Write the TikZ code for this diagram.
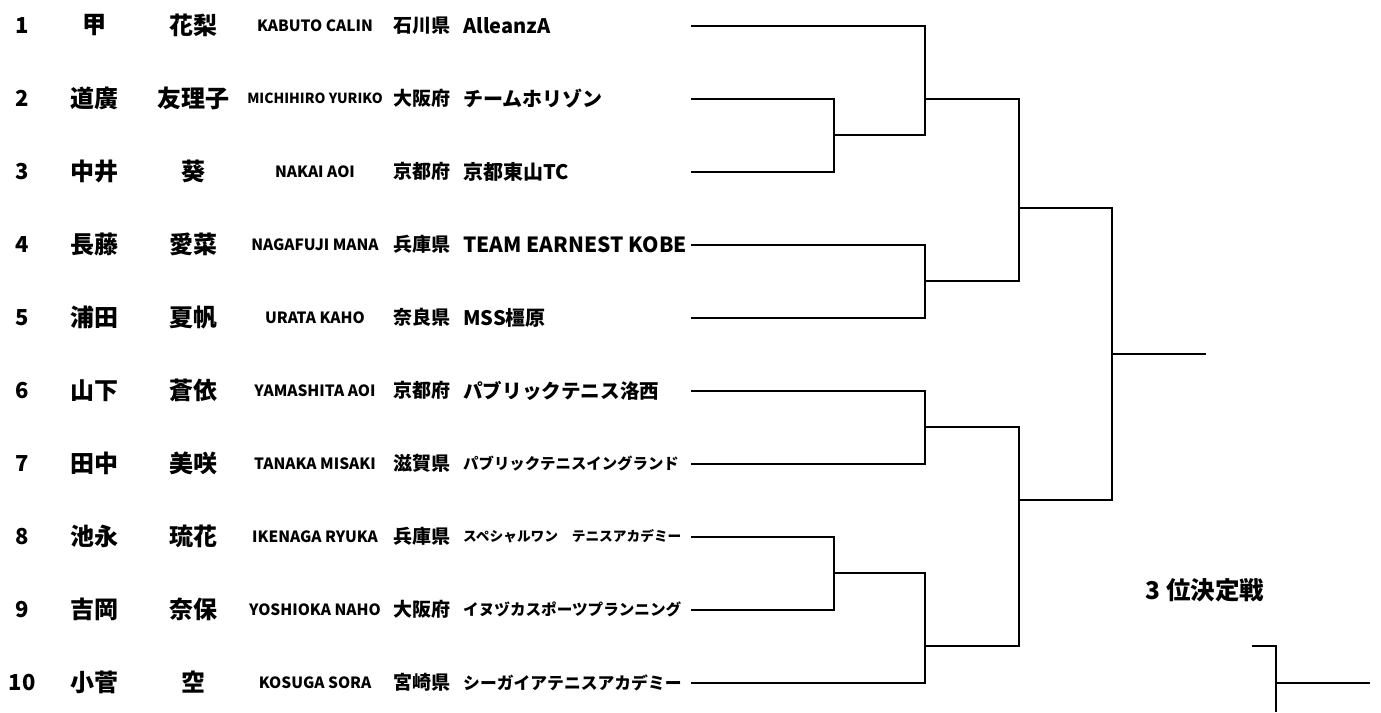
\documentclass[tikz,border=0pt]{standalone}
\usepackage{fontspec}
\setmainfont{Noto Sans CJK JP}
\tikzset{
  entry/.style={inner sep=0pt, text=black},
  seed/.style={entry, font=\fontsize{22}{26}\selectfont\bfseries},
  family/.style={entry, font=\fontsize{24}{28}\selectfont\bfseries},
  given/.style={entry, font=\fontsize{24}{28}\selectfont\bfseries},
  roman/.style={entry, font=\fontsize{#1}{18}\selectfont\bfseries},
  roman/.default=15.5,
  pref/.style={entry, anchor=west, font=\fontsize{19}{22}\selectfont\bfseries},
  club/.style={entry, anchor=west, font=\fontsize{#1}{#1}\selectfont\bfseries},
  club/.default=20,
  bracket/.style={line width=2pt, draw=black},
  round-title/.style={entry, font=\fontsize{24.5}{28}\selectfont\bfseries}
}
\begin{document}
\begin{tikzpicture}[x=1pt, y=-1pt]
\useasboundingbox (0,0) rectangle (1381,712);

% players
\node[seed] (n1) at (22, 25.5) {1};
\node[family] (fam1) at (94, 25.5) {甲};
\node[given] (giv1) at (193, 25.5) {花梨};
\node[roman] (rom1) at (315, 25.5) {KABUTO CALIN};
\node[pref] (pref1) at (393, 25.5) {石川県};
\node[club] (club1) at (463, 25.5) {AlleanzA};

\node[seed] (n2) at (22, 98.5) {2};
\node[family] (fam2) at (94, 98.5) {道廣};
\node[given] (giv2) at (193, 98.5) {友理子};
\node[roman=13.9] (rom2) at (315, 98.5) {MICHIHIRO YURIKO};
\node[pref] (pref2) at (393, 98.5) {大阪府};
\node[club] (club2) at (463, 98.5) {チームホリゾン};

\node[seed] (n3) at (22, 171.5) {3};
\node[family] (fam3) at (94, 171.5) {中井};
\node[given] (giv3) at (193, 171.5) {葵};
\node[roman] (rom3) at (315, 171.5) {NAKAI AOI};
\node[pref] (pref3) at (393, 171.5) {京都府};
\node[club] (club3) at (463, 171.5) {京都東山TC};

\node[seed] (n4) at (22, 244.5) {4};
\node[family] (fam4) at (94, 244.5) {長藤};
\node[given] (giv4) at (193, 244.5) {愛菜};
\node[roman] (rom4) at (315, 244.5) {NAGAFUJI MANA};
\node[pref] (pref4) at (393, 244.5) {兵庫県};
\node[club=20.9] (club4) at (463, 244.5) {TEAM EARNEST KOBE};

\node[seed] (n5) at (22, 317.5) {5};
\node[family] (fam5) at (94, 317.5) {浦田};
\node[given] (giv5) at (193, 317.5) {夏帆};
\node[roman] (rom5) at (315, 317.5) {URATA KAHO};
\node[pref] (pref5) at (393, 317.5) {奈良県};
\node[club] (club5) at (463, 317.5) {MSS橿原};

\node[seed] (n6) at (22, 390.5) {6};
\node[family] (fam6) at (94, 390.5) {山下};
\node[given] (giv6) at (193, 390.5) {蒼依};
\node[roman] (rom6) at (315, 390.5) {YAMASHITA AOI};
\node[pref] (pref6) at (393, 390.5) {京都府};
\node[club=19.6] (club6) at (463, 390.5) {パブリックテニス洛西};

\node[seed] (n7) at (22, 463.5) {7};
\node[family] (fam7) at (94, 463.5) {田中};
\node[given] (giv7) at (193, 463.5) {美咲};
\node[roman] (rom7) at (315, 463.5) {TANAKA MISAKI};
\node[pref] (pref7) at (393, 463.5) {滋賀県};
\node[club=15.4] (club7) at (463, 463.5) {パブリックテニスイングランド};

\node[seed] (n8) at (22, 536.5) {8};
\node[family] (fam8) at (94, 536.5) {池永};
\node[given] (giv8) at (193, 536.5) {琉花};
\node[roman] (rom8) at (315, 536.5) {IKENAGA RYUKA};
\node[pref] (pref8) at (393, 536.5) {兵庫県};
\node[club=13.7] (club8) at (463, 536.5) {スペシャルワン　テニスアカデミー};

\node[seed] (n9) at (22, 609.5) {9};
\node[family] (fam9) at (94, 609.5) {吉岡};
\node[given] (giv9) at (193, 609.5) {奈保};
\node[roman] (rom9) at (315, 609.5) {YOSHIOKA NAHO};
\node[pref] (pref9) at (393, 609.5) {大阪府};
\node[club=15.6] (club9) at (463, 609.5) {イヌヅカスポーツプランニング};

\node[seed] (n10) at (22, 682.5) {10};
\node[family] (fam10) at (94, 682.5) {小菅};
\node[given] (giv10) at (193, 682.5) {空};
\node[roman] (rom10) at (315, 682.5) {KOSUGA SORA};
\node[pref] (pref10) at (393, 682.5) {宮崎県};
\node[club=16.8] (club10) at (463, 682.5) {シーガイアテニスアカデミー};

% line starts
\coordinate (e1) at (691, 25.5);
\coordinate (e2) at (691, 98.5);
\coordinate (e3) at (691, 171.5);
\coordinate (e4) at (691, 244.5);
\coordinate (e5) at (691, 317.5);
\coordinate (e6) at (691, 390.5);
\coordinate (e7) at (691, 463.5);
\coordinate (e8) at (691, 536.5);
\coordinate (e9) at (691, 609.5);
\coordinate (e10) at (691, 682.5);

% junctions
\coordinate (m23) at (834, 135);
\coordinate (q1) at (925, 98.5);
\coordinate (q45) at (925, 281);
\coordinate (q67) at (925, 427);
\coordinate (m89) at (834, 573);
\coordinate (q10) at (925, 646);
\coordinate (s1) at (1019, 208);
\coordinate (s2) at (1019, 500);
\coordinate (final) at (1112, 354);
\coordinate (champ) at (1206, 354);

\draw[bracket] (e2) -| (m23) |- (e3);
\draw[bracket] (e1) -| (q1) |- (m23);
\draw[bracket] (e4) -| (q45) |- (e5);
\draw[bracket] (q1) -| (s1) |- (q45);
\draw[bracket] (e6) -| (q67) |- (e7);
\draw[bracket] (e8) -| (m89) |- (e9);
\draw[bracket] (m89) -| (q10) |- (e10);
\draw[bracket] (q67) -| (s2) |- (q10);
\draw[bracket] (s1) -| (final) |- (s2);
\draw[bracket] (final) -- (champ);

% third place
\node[round-title] (third) at (1205, 590) {3 位決定戦};
\coordinate (t0) at (1252, 646);
\coordinate (t1) at (1276, 683);
\coordinate (tb) at (1276, 712);
\coordinate (t2) at (1370, 683);
\draw[bracket] (t0) -| (tb);
\draw[bracket] (t1) -- (t2);

\end{tikzpicture}
\end{document}
